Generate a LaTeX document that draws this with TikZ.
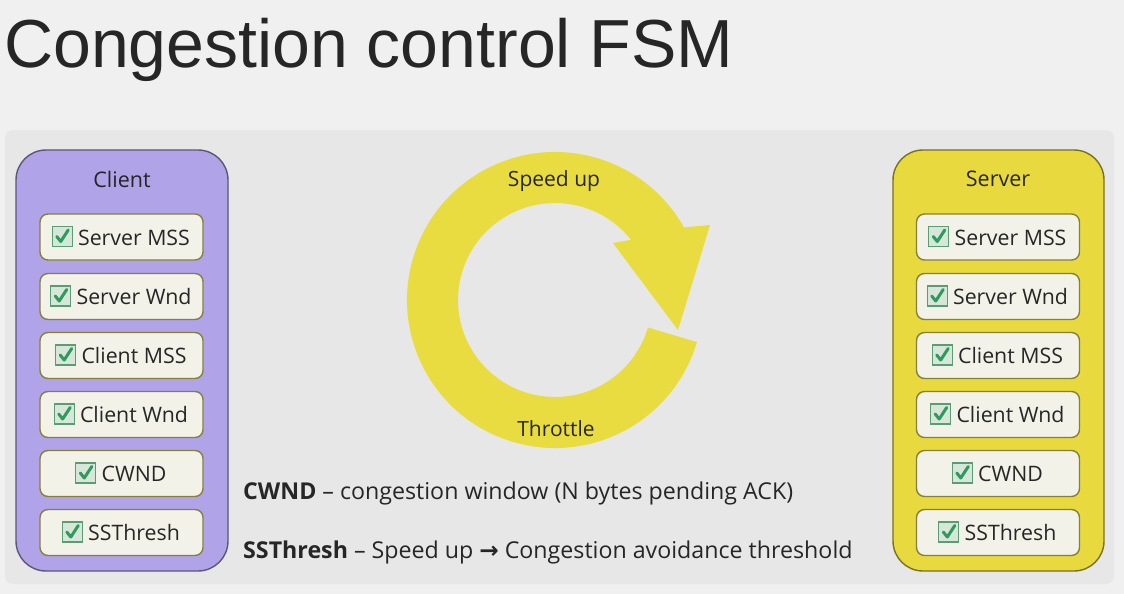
\documentclass[tikz,border=0pt]{standalone}
\usepackage{fontspec}
\setmainfont{Open Sans}
\newfontfamily\titlefont{Liberation Sans}
\newfontfamily\symfont{DejaVu Sans}
\usetikzlibrary{calc,positioning}

\definecolor{pagebg}{HTML}{F0F0F0}
\definecolor{panelbg}{HTML}{E7E7E7}
\definecolor{ink}{HTML}{262626}
\definecolor{clientfill}{HTML}{B1A3E8}
\definecolor{clientline}{HTML}{5C5678}
\definecolor{serverfill}{HTML}{E8DA3E}
\definecolor{serverline}{HTML}{7A7022}
\definecolor{itemfill}{HTML}{F2F2E8}
\definecolor{itemline}{HTML}{86803A}
\definecolor{ringfill}{HTML}{E8DC40}
\definecolor{chkfill}{HTML}{D6E6D9}
\definecolor{chkline}{HTML}{5A9C74}
\definecolor{chkmarkc}{HTML}{2F9A5C}

\tikzset{
  side/.style={rounded corners=30pt, line width=1.4pt},
  item/.style={draw=itemline, fill=itemfill, rounded corners=8pt,
    minimum width=163pt, minimum height=46pt, line width=1.4pt},
  itemtxt/.style={inner sep=0pt, text=ink, font=\fontsize{21.3}{24}\selectfont,
    text height=15pt, text depth=0pt},
  chk/.style={draw=chkline, fill=chkfill, minimum size=20pt, inner sep=0pt,
    line width=1.3pt},
  chkmark/.style={draw=chkmarkc, line width=3pt, line cap=round, line join=round},
  head/.style={text=ink, font=\fontsize{21.5}{24}\selectfont},
  ringtxt/.style={text=ink, font=\fontsize{21}{24}\selectfont},
  note/.style={anchor=base west, text=ink, inner sep=0pt, font=\fontsize{23.2}{26}\selectfont},
}

\begin{document}
\begin{tikzpicture}[x=1pt, y=-1pt]
  \useasboundingbox (0,0) rectangle (1124,594);
  \fill[pagebg] (0,0) rectangle (1124,594);
  \fill[panelbg, rounded corners=8pt] (5,130) rectangle (1114,584);

  % title
  \node[anchor=base west, inner sep=0pt, text=ink,
        font=\titlefont\fontsize{68}{72}\selectfont] (title) at (4,67) {Congestion control FSM};

  % client and server panels
  \draw[side, fill=clientfill, draw=clientline] (16,150) rectangle (228,571);
  \draw[side, fill=serverfill, draw=serverline] (893,150) rectangle (1104,571);
  \node[head] (client) at (122,179) {Client};
  \node[head] (server) at (998,179) {Server};

  % parameter items
  \foreach \nm/\x/\y/\t in {
      ca/121.5/237/Server MSS, cb/121.5/296.5/Server Wnd, cc/121.5/355.5/Client MSS,
      cd/121.5/414.5/Client Wnd, ce/121.5/473.5/CWND, cf/121.5/532.5/SSThresh,
      sa/998/237/Server MSS, sb/998/296.5/Server Wnd, sc/998/355.5/Client MSS,
      sd/998/414.5/Client Wnd, se/998/473.5/CWND, sf/998/532.5/SSThresh} {
    \node[item] (\nm) at (\x,\y) {};
    \node[itemtxt] (\nm t) at ($(\nm.center)+(12.5,0.5)$) {\t};
    \node[chk, left=5pt of \nm t, yshift=1pt] (\nm k) {};
    \draw[chkmark] ($(\nm k.center)+(-5.5,0)$) -- ($(\nm k.center)+(-1.5,5)$)
                   -- ($(\nm k.center)+(6,-6.5)$);
  }

  % circular arrow
  \begin{scope}[shift={(555,300)}]
    \fill[ringfill] (16.5:148) arc[start angle=16.5, end angle=330.6, radius=148]
      -- (155,-75) -- (123,30) -- (58,-57)
      -- (321.6:97) arc[start angle=321.6, end angle=16.5, radius=97] -- cycle;
  \end{scope}
  \node[ringtxt] (speed) at (554,181) {Speed up};
  \node[ringtxt] (throttle) at (556,429) {Throttle};

  % notes
  \node[note] (n1) at (243,499) {\textbf{CWND} – congestion window (N bytes pending ACK)};
  \node[note] (n2) at (243,558) {\textbf{SSThresh} – Speed up {\symfont\bfseries →} Congestion avoidance threshold};
\end{tikzpicture}
\end{document}
